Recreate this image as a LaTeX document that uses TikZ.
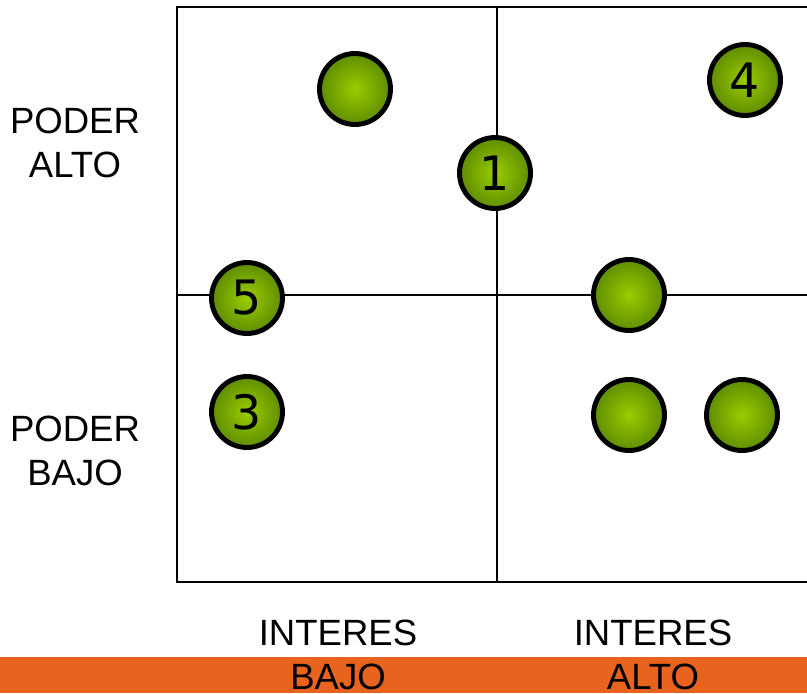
\documentclass[tikz,border=0pt]{standalone}
\usepackage{fontspec}
\setmainfont{Liberation Sans}
\newfontfamily\ballfont{DejaVu Sans}
\usepackage{tikz}

\definecolor{barorange}{HTML}{E8641E}
\definecolor{balllight}{HTML}{9ACD00}
\definecolor{balldark}{HTML}{5E8C00}

\tikzset{
	ball/.style={circle, draw=black, line width=2.8pt, minimum size=1.42cm, inner sep=0pt,
		inner color=balllight, outer color=balldark, font=\ballfont\fontsize{27}{27}\selectfont},
	axislabel/.style={align=center, font=\fontsize{20.8}{25.5}\selectfont},
}

\begin{document}
\begin{tikzpicture}[x=0.02cm, y=-0.02cm]
	\useasboundingbox (0,0) rectangle (807,693);
	% bar under the interest labels
	\fill[barorange] (0,657) rectangle (807,693);
	% power / interest grid
	\draw[line width=1.1pt] (807,7) -- (177,7) -- (177,582) -- (807,582);
	\draw[line width=1.1pt] (497,7) -- (497,582);
	\draw[line width=1.1pt] (177,295) -- (807,295);
	% axis labels
	\node[axislabel] (podalto) at (75,143) {PODER\\ALTO};
	\node[axislabel] (podbajo) at (75,451) {PODER\\BAJO};
	\node[axislabel] (intbajo) at (338,655) {INTERES\\BAJO};
	\node[axislabel] (intalto) at (653,655) {INTERES\\ALTO};
	% stakeholders
	\node[ball] (s0) at (355,89) {};
	\node[ball] (s1) at (495,173) {1};
	\node[ball] (s4) at (745,80) {4};
	\node[ball] (s5) at (247,298) {5};
	\node[ball] (s6) at (629,295) {};
	\node[ball] (s3) at (247,412) {3};
	\node[ball] (s7) at (629,415) {};
	\node[ball] (s8) at (742,415) {};
\end{tikzpicture}
\end{document}
